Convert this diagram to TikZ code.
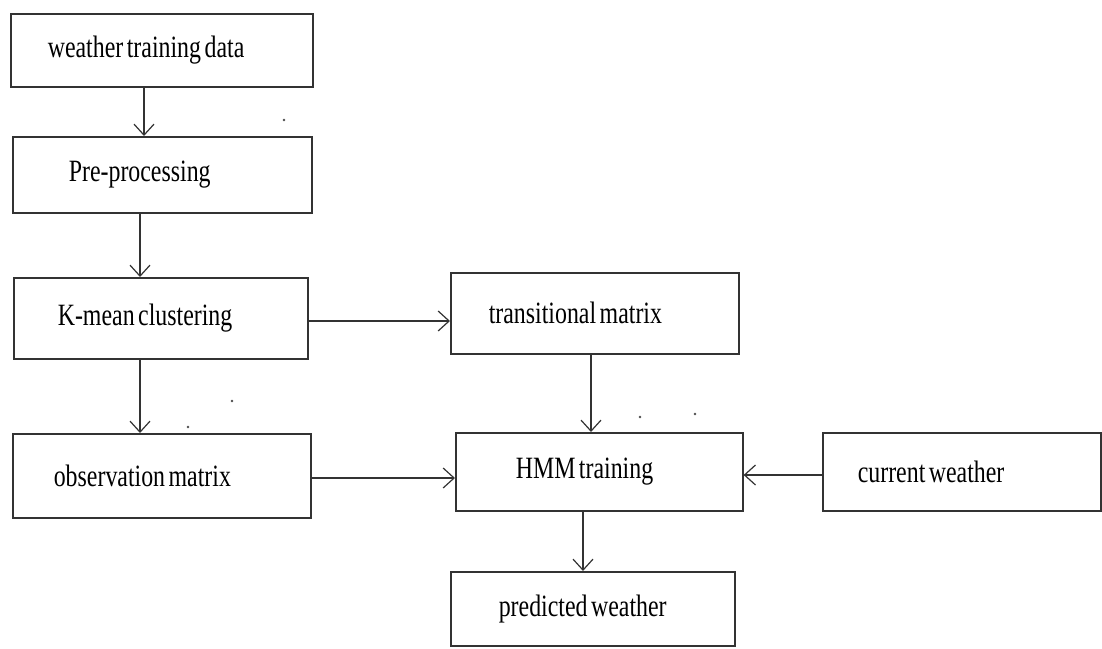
\documentclass[tikz,border=0pt]{standalone}
\usepackage{fontspec}
\setmainfont{Liberation Serif}
\newfontfamily\stagefont[FakeStretch=0.77]{Liberation Serif}
\newcommand\stagetextstyle{\stagefont\fontsize{31}{34}\selectfont}
\usetikzlibrary{arrows.meta}
\tikzset{
  stagebox/.style={draw=black!80, line width=1.6pt, anchor=north west,
    align=left, inner ysep=0pt, font=\stagetextstyle,
    execute at begin node={\spaceskip=3.5pt\relax}},
  flow/.style={draw=black!80, line width=1.4pt,
    -{Straight Barb[length=11pt,width=20pt,line width=1.2pt]}},
  speck/.style={fill=black!70, draw=none}
}
\begin{document}
\begin{tikzpicture}[x=1pt,y=-1pt]
\useasboundingbox (0,0) rectangle (1102,648);

% processing stages (position, size, left text offset)
\node[stagebox, minimum width=302pt, minimum height=73pt, inner xsep=37pt, text width=228pt] (data) at (10,13) {weather training data};
\node[stagebox, minimum width=299pt, minimum height=76pt, inner xsep=56pt, text width=187pt] (pre) at (12,136) {Pre-processing};
\node[stagebox, minimum width=294pt, minimum height=81pt, inner xsep=44pt, text width=206pt] (kmean) at (13,277) {K-mean clustering};
\node[stagebox, minimum width=298pt, minimum height=84pt, inner xsep=41pt, text width=216pt] (obs) at (12,433) {observation matrix};
\node[stagebox, minimum width=288pt, minimum height=81pt, inner xsep=38pt, text width=212pt] (trans) at (450,272) {transitional matrix};
\node[stagebox, minimum width=287pt, minimum height=78pt, inner xsep=60pt, text width=167pt] (hmm) at (455,432) {HMM training};
\node[stagebox, minimum width=278pt, minimum height=78pt, inner xsep=35pt, text width=208pt] (cur) at (822,432) {current weather};
\node[stagebox, minimum width=284pt, minimum height=74pt, inner xsep=48pt, text width=188pt] (pred) at (450,571) {predicted weather};

% connectors
\draw[flow] (data.south -| 144,0) -- (pre.north -| 144,0);
\draw[flow] (pre.south -| 140,0) -- (kmean.north -| 140,0);
\draw[flow] (kmean.south -| 140,0) -- (obs.north -| 140,0);
\draw[flow] (kmean.east |- 0,321) -- (trans.west |- 0,321);
\draw[flow] (trans.south -| 591,0) -- (hmm.north -| 591,0);
\draw[flow] (obs.east |- 0,478) -- (hmm.west |- 0,478);
\draw[flow] (cur.west |- 0,475) -- (hmm.east |- 0,475);
\draw[flow] (hmm.south -| 583,0) -- (pred.north -| 583,0);

% small specks on the page
\foreach \p in {(284,120),(232,401),(188,427),(640,417),(695,414)}
  \fill[speck] \p circle (1.3pt);
\end{tikzpicture}
\end{document}
